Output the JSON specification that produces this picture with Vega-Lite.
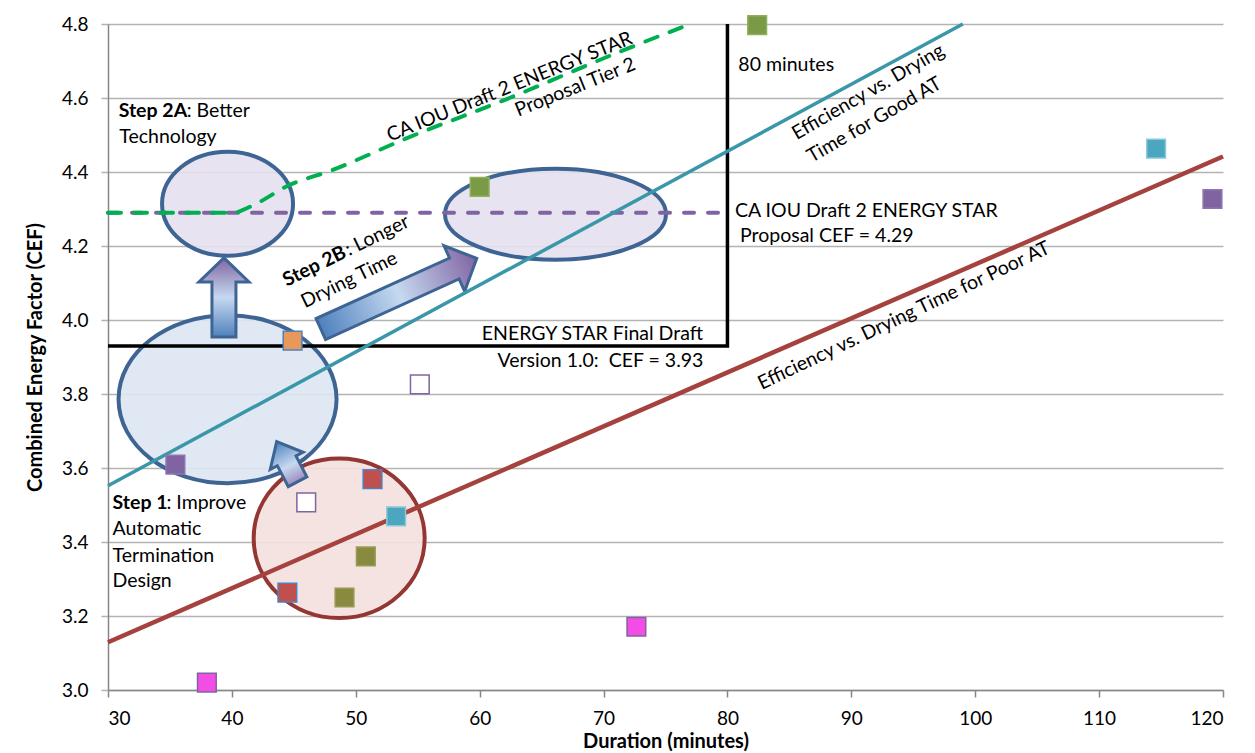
{
  "$schema": "https://vega.github.io/schema/vega-lite/v6.json",
  "width": 1115,
  "height": 666,
  "autosize": "none",
  "padding": {"left": 108, "top": 24, "right": 32, "bottom": 63},
  "background": "white",
  "config": {"font": "Lato", "view": {"stroke": null}},
  "encoding": {
    "x": {"field": "x", "type": "quantitative",
      "scale": {"domain": [30, 120], "nice": false, "zero": false},
      "axis": {"title": "Duration (minutes)", "values": [30,40,50,60,70,80,90,100,110,120], "grid": false,
        "tickSize": 7, "tickColor": "#868686", "tickWidth": 1.5, "domainColor": "#868686", "domainWidth": 1.5,
        "labelFontSize": 19, "labelColor": "#000", "labelPadding": 12, "labelFont": "Lato",
        "titleFontSize": 20, "titleFontWeight": "bold", "titleColor": "#000", "titlePadding": 3, "titleFont": "Lato"}},
    "y": {"field": "y", "type": "quantitative",
      "scale": {"domain": [3.0, 4.8], "nice": false, "zero": false},
      "axis": {"title": "Combined Energy Factor (CEF)", "values": [3.0,3.2,3.4,3.6,3.8,4.0,4.2,4.4,4.6,4.8], "format": ".1f",
        "grid": true, "gridColor": "#B3B3B3", "gridWidth": 1.5,
        "tickSize": 7, "tickColor": "#B3B3B3", "tickWidth": 1.5, "domainColor": "#868686", "domainWidth": 1.5,
        "labelFontSize": 19, "labelColor": "#000", "labelPadding": 13, "labelFont": "Lato",
        "titleFontSize": 20, "titleFontWeight": "bold", "titleColor": "#000", "titlePadding": 16, "titleFont": "Lato"}}
  },
  "layer": [
    {"data": {"values": [{"x": 39.65, "y": 4.314}]},
     "mark": {"type": "point", "filled": true, "size": 4, "shape": "M -65.5 0 A 65.5 52 0 1 0 65.5 0 A 65.5 52 0 1 0 -65.5 0 Z", "fill": "#E6E0EE", "fillOpacity": 0.9, "stroke": "#3E6494", "strokeWidth": 4, "opacity": 1}},
    {"data": {"values": [{"x": 66.12, "y": 4.286}]},
     "mark": {"type": "point", "filled": true, "size": 4, "shape": "M -110.5 0 A 110.5 45.5 0 1 0 110.5 0 A 110.5 45.5 0 1 0 -110.5 0 Z", "fill": "#E6E0EE", "fillOpacity": 0.9, "stroke": "#3E6494", "strokeWidth": 4, "opacity": 1}},
    {"data": {"values": [{"x": 39.65, "y": 3.786}]},
     "mark": {"type": "point", "filled": true, "size": 4, "shape": "M -109 0 A 109 84 0 1 0 109 0 A 109 84 0 1 0 -109 0 Z", "fill": "#DCE6F2", "fillOpacity": 0.9, "stroke": "#3E6494", "strokeWidth": 4, "opacity": 1}},
    {"data": {"values": [{"x": 48.66, "y": 3.41}]},
     "mark": {"type": "point", "filled": true, "size": 4, "shape": "M -85.5 0 A 85.5 79.7 0 1 0 85.5 0 A 85.5 79.7 0 1 0 -85.5 0 Z", "fill": "#F4E0DF", "fillOpacity": 0.9, "stroke": "#943634", "strokeWidth": 4, "opacity": 1}},
    {"data": {"values": [{"x": 39.36, "y": 4.061}]},
     "mark": {"type": "point", "filled": true, "size": 4, "angle": 0,
       "shape": "M 0 -39.5 L 25 -15.5 L 12 -15.5 L 12 39.5 L -12 39.5 L -12 -15.5 L -25 -15.5 Z",
       "fill": {"gradient": "linear", "x1": 0, "y1": 0, "x2": 0, "y2": 1, "stops": [{"offset": 0, "color": "#8064A2"}, {"offset": 0.5, "color": "#C6D9F1"}, {"offset": 1, "color": "#4F81BD"}]},
       "stroke": "#3E6494", "strokeWidth": 3, "opacity": 1}},
    {"data": {"values": [{"x": 53.47, "y": 4.071}]},
     "mark": {"type": "point", "filled": true, "size": 4, "angle": 65.6,
       "shape": "M 0 -85.6 L 25 -61 L 11.5 -61 L 11.5 85.6 L -11.5 85.6 L -11.5 -61 L -25 -61 Z",
       "fill": {"gradient": "linear", "x1": 0, "y1": 0, "x2": 0, "y2": 1, "stops": [{"offset": 0, "color": "#8064A2"}, {"offset": 0.5, "color": "#C6D9F1"}, {"offset": 1, "color": "#4F81BD"}]},
       "stroke": "#3E6494", "strokeWidth": 3, "opacity": 1}},
    {"data": {"values": [{"x": 44.46, "y": 3.617}]},
     "mark": {"type": "point", "filled": true, "size": 4, "angle": 332.5,
       "shape": "M 0 -22.6 L 18.5 -1 L 10.5 -1 L 10.5 22.6 L -10.5 22.6 L -10.5 -1 L -18.5 -1 Z",
       "fill": {"gradient": "linear", "x1": 0, "y1": 0, "x2": 0, "y2": 1, "stops": [{"offset": 0, "color": "#4F81BD"}, {"offset": 0.6, "color": "#C6D9F1"}, {"offset": 1, "color": "#A08CC0"}]},
       "stroke": "#3E6494", "strokeWidth": 3, "opacity": 1}},
    {"data": {"values": [{"x": 30, "y": 3.93, "o": 1}, {"x": 80, "y": 3.93, "o": 2}, {"x": 80, "y": 4.8, "o": 3}]},
     "mark": {"type": "line", "color": "#000000", "strokeWidth": 3.5},
     "encoding": {"order": {"field": "o", "type": "quantitative"}}},
    {"data": {"values": [{"x": 30, "y": 4.29}, {"x": 79.6, "y": 4.29}]},
     "mark": {"type": "line", "color": "#8064A2", "strokeWidth": 4, "strokeDash": [10, 14], "strokeCap": "round"},
     "encoding": {}},
    {"data": {"values": [{"x": 30, "y": 4.29}, {"x": 40, "y": 4.29}, {"x": 42, "y": 4.315}, {"x": 44.4, "y": 4.361}, {"x": 48.1, "y": 4.405}, {"x": 53.8, "y": 4.487}, {"x": 62.4, "y": 4.6}, {"x": 71.3, "y": 4.725}, {"x": 77, "y": 4.8}]},
     "mark": {"type": "line", "color": "#00B050", "strokeWidth": 4, "strokeDash": [13, 13], "strokeCap": "round", "interpolate": "monotone"},
     "encoding": {}},
    {"data": {"values": [{"x": 30, "y": 3.552}, {"x": 99, "y": 4.8}]},
     "mark": {"type": "line", "color": "#3A97A9", "strokeWidth": 3.5},
     "encoding": {}},
    {"data": {"values": [{"x": 30, "y": 3.129}, {"x": 120, "y": 4.442}]},
     "mark": {"type": "line", "color": "#A5423E", "strokeWidth": 4.5},
     "encoding": {}},
    {"data": {"values": [
       {"x": 82.4, "y": 4.797, "s": "G1"}, {"x": 60.0, "y": 4.36, "s": "G1"},
       {"x": 114.6, "y": 4.463, "s": "C"}, {"x": 53.26, "y": 3.469, "s": "C"},
       {"x": 119.15, "y": 4.327, "s": "P"}, {"x": 35.44, "y": 3.609, "s": "P"},
       {"x": 44.9, "y": 3.944, "s": "O"},
       {"x": 51.35, "y": 3.57, "s": "R"}, {"x": 44.48, "y": 3.263, "s": "R"},
       {"x": 55.17, "y": 3.826, "s": "H"}, {"x": 46.0, "y": 3.507, "s": "H"},
       {"x": 50.81, "y": 3.361, "s": "G2"}, {"x": 49.09, "y": 3.25, "s": "G2"},
       {"x": 37.98, "y": 3.02, "s": "M"}, {"x": 72.65, "y": 3.171, "s": "M"}]},
     "mark": {"type": "point", "shape": "square", "filled": true, "size": 350, "strokeWidth": 1.5, "opacity": 1},
     "encoding": {
       "fill": {"field": "s", "type": "nominal", "legend": null,
         "scale": {"domain": ["G1","G2","C","P","O","R","H","M"], "range": ["#7A9A45","#878A3F","#4BA6BF","#8064A2","#E8995A","#C0504D","#FFFFFF","#F24EE6"]}},
       "stroke": {"field": "s", "type": "nominal", "legend": null,
         "scale": {"domain": ["G1","G2","C","P","O","R","H","M"], "range": ["#8FAF5A","#9A9C55","#8CC8D8","#8F76AE","#4F81BD","#4F81BD","#8064A2","#8064A2"]}}}},
    {"data": {"values": [
       {"x": 36.35, "y": 4.549, "t": ": Better"}, {"x": 30.91, "y": 4.478, "t": "Technology"},
       {"x": 80.88, "y": 4.674, "t": "80 minutes"},
       {"x": 80.61, "y": 4.279, "t": "CA IOU Draft 2 ENERGY STAR"}, {"x": 81.01, "y": 4.212, "t": "Proposal CEF = 4.29"},
       {"x": 34.72, "y": 3.49, "t": ": Improve"}, {"x": 30.37, "y": 3.419, "t": "Automatic"},
       {"x": 30.37, "y": 3.347, "t": "Termination"}, {"x": 30.37, "y": 3.278, "t": "Design"}]},
     "mark": {"type": "text", "align": "left", "baseline": "alphabetic", "fontSize": 19.5, "color": "#000"},
     "encoding": {"text": {"field": "t"}}},
    {"data": {"values": [{"x": 30.86, "y": 4.549, "t": "Step 2A"}, {"x": 30.37, "y": 3.49, "t": "Step 1"}]},
     "mark": {"type": "text", "align": "left", "baseline": "alphabetic", "fontSize": 19.5, "fontWeight": "bold", "color": "#000"},
     "encoding": {"text": {"field": "t"}}},
    {"data": {"values": [{"x": 78.03, "y": 3.946, "t": "ENERGY STAR Final Draft"}, {"x": 78.06, "y": 3.873, "t": "Version 1.0:\u00a0 CEF = 3.93"}]},
     "mark": {"type": "text", "align": "right", "baseline": "alphabetic", "fontSize": 19.5, "color": "#000"},
     "encoding": {"text": {"field": "t"}}},
    {"data": {"values": [{"x": 52.76, "y": 4.482, "t": "CA IOU Draft 2 ENERGY STAR"}, {"x": 63.12, "y": 4.549, "t": "Proposal Tier 2"}]},
     "mark": {"type": "text", "align": "left", "baseline": "alphabetic", "fontSize": 19.5, "angle": 338, "color": "#000"},
     "encoding": {"text": {"field": "t"}}},
    {"data": {"values": [{"x": 85.59, "y": 4.486, "t": "Efficiency vs. Drying"}, {"x": 86.8, "y": 4.424, "t": "Time for Good AT"}]},
     "mark": {"type": "text", "align": "left", "baseline": "alphabetic", "fontSize": 19.5, "angle": 330, "color": "#000"},
     "encoding": {"text": {"field": "t"}}},
    {"data": {"values": [{"x": 82.76, "y": 3.811, "t": "Efficiency vs. Drying Time for Poor AT"}]},
     "mark": {"type": "text", "align": "left", "baseline": "alphabetic", "fontSize": 19.5, "angle": 334.6, "color": "#000"},
     "encoding": {"text": {"field": "t"}}},
    {"data": {"values": [{"x": 44.42, "y": 4.09, "t": "Step 2B"}]},
     "mark": {"type": "text", "align": "left", "baseline": "alphabetic", "fontSize": 19.5, "fontWeight": "bold", "angle": 334, "color": "#000"},
     "encoding": {"text": {"field": "t"}}},
    {"data": {"values": [{"x": 49.45, "y": 4.173, "t": ": Longer"}, {"x": 45.9, "y": 4.032, "t": "Drying Time"}]},
     "mark": {"type": "text", "align": "left", "baseline": "alphabetic", "fontSize": 19.5, "angle": 334, "color": "#000"},
     "encoding": {"text": {"field": "t"}}}
  ]
}
